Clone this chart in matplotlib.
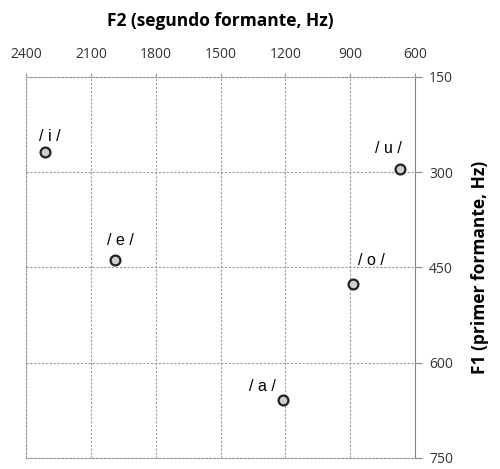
import matplotlib.pyplot as plt

# vowel formant values (Hz)
vowels = ["/ i /", "/ e /", "/ a /", "/ o /", "/ u /"]
f2 = [2310, 1990, 1210, 885, 670]
f1 = [268, 438, 658, 476, 295]
label_offsets = [(3.5, 11), (4, 14), (-15, 9.5), (13, 17), (-8, 15)]

x_ticks = [2400, 2100, 1800, 1500, 1200, 900, 600]
y_ticks = [150, 300, 450, 600, 750]

plt.rcParams["font.family"] = ["Open Sans", "DejaVu Sans"]

fig = plt.figure(figsize=(5, 4.69), dpi=100)
ax = fig.add_axes([0.052, 0.0235, 0.778, 0.8125])

ax.scatter(f2, f1, s=50, facecolor="#cfcfcf", edgecolor="#222222",
           linewidth=1.6, zorder=3)
for name, x, y, (dx, dy) in zip(vowels, f2, f1, label_offsets):
    ax.annotate(name, (x, y), xytext=(dx, dy), textcoords="offset points",
                ha="center", va="center", fontsize=11.5, color="black",
                family=["Liberation Sans", "DejaVu Sans"])

ax.set_xlim(2400, 600)
ax.set_ylim(750, 150)
ax.set_xticks(x_ticks)
ax.set_yticks(y_ticks)
ax.xaxis.tick_top()
ax.yaxis.tick_right()
ax.xaxis.set_label_position("top")
ax.yaxis.set_label_position("right")

dash = (0, (2, 1.5))
ax.grid(True, linestyle=dash, color="#999999", linewidth=0.8)
for side in ["left", "top", "bottom"]:
    ax.spines[side].set_linestyle(dash)
    ax.spines[side].set_color("#999999")
    ax.spines[side].set_linewidth(0.8)
ax.spines["right"].set_color("#888888")

ax.tick_params(axis="x", length=3, color="#999999", labelsize=10,
               labelcolor="#333333", pad=8)
ax.tick_params(axis="y", length=5, color="#888888", labelsize=10,
               labelcolor="#333333", pad=5)

ax.set_xlabel("F2 (segundo formante, Hz)", fontsize=12.5, fontweight="bold",
              labelpad=15)
ax.set_ylabel("F1 (primer formante, Hz)", fontsize=12.5, fontweight="bold",
              rotation=90, labelpad=13)

fig.savefig("out.png", dpi=100)
